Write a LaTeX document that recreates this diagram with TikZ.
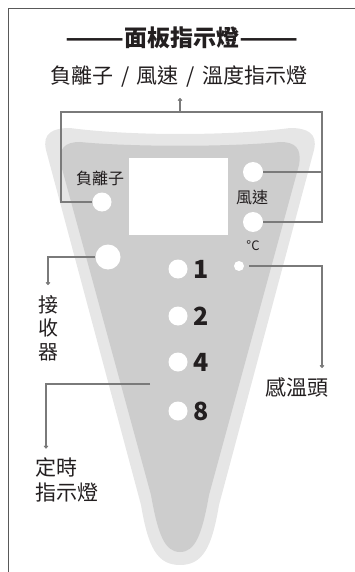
\documentclass[tikz,border=0pt]{standalone}
\usepackage{fontspec}
\setmainfont{Noto Sans CJK TC}
\usetikzlibrary{arrows.meta}

\definecolor{panelouter}{HTML}{E6E6E6}
\definecolor{panelinner}{HTML}{CDCDCD}
\definecolor{wiregray}{HTML}{7A7A7A}
\definecolor{inkgray}{HTML}{231F20}

\begin{document}
\begin{tikzpicture}[x=1pt, y=-1pt,
  wire/.style={draw=wiregray, line width=1.1pt},
  arrowend/.style={-{To[length=3pt,width=4.5pt]}},
  lamp/.style={circle, fill=white, inner sep=0pt},
  callout/.style={inner sep=0pt, text=inkgray, font=\fontsize{21}{24}\selectfont},
  paneltext/.style={inner sep=0pt, text=inkgray, font=\fontsize{16}{18}\selectfont},
  digit/.style={inner sep=0pt, text=inkgray, font=\bfseries\fontsize{25}{27}\selectfont}]

  \useasboundingbox (0,0) rectangle (355,572);

  % 枠線
  \draw[draw=black!65, line width=1pt] (8,572) -- (8,9) -- (355,9);

  % タイトル
  \node[inner sep=0pt, text=inkgray, font=\bfseries\fontsize{23}{26}\selectfont] (title) at (182,38)
    {\scalebox{1.5}[1]{——}面板指示燈\scalebox{1.5}[1]{——}};
  \node[callout] (sub) at (179,77) {負離子\hspace{3pt} / \hspace{3pt}風速\hspace{3pt} / \hspace{3pt}溫度指示燈};

  % パネルの外形と内側
  \fill[panelouter] (46,150) .. controls (42,133) and (53,128) .. (70,128)
    .. controls (130,136) and (230,136) .. (290,128)
    .. controls (307,128) and (318,133) .. (314,150)
    -- (219,505) .. controls (212,547) and (203,565) .. (180,565)
    .. controls (157,565) and (148,547) .. (141,505) -- cycle;
  \fill[panelinner] (61,165) .. controls (58,148) and (65,142) .. (80,142)
    .. controls (130,147) and (230,147) .. (280,142)
    .. controls (295,142) and (302,148) .. (299,165)
    -- (209,495) .. controls (202,535) and (195,552) .. (180,552)
    .. controls (165,552) and (158,535) .. (151,495) -- cycle;

  % 表示窓
  \fill[white] (129,158) rectangle (228,235);

  % ランプ
  \node[lamp, minimum size=19pt] (ion) at (102,202) {};
  \node[lamp, minimum size=25pt] (rx) at (108,257) {};
  \node[lamp, minimum size=20pt] (fan1) at (253,172) {};
  \node[lamp, minimum size=20pt] (fan2) at (253,222) {};
  \node[lamp, minimum size=10pt] (sensor) at (239,266) {};
  \foreach \n/\y in {1/269, 2/316, 4/362, 8/411} {
    \node[lamp, minimum size=19pt] (t\n) at (178,\y) {};
    \node[digit] (d\n) at (201,\y) {\n};
  }

  % パネル上の文字
  \node[paneltext] (ionlabel) at (100,178) {負離子};
  \node[paneltext] (fanlabel) at (252,197) {風速};
  \node[inner sep=0pt, text=inkgray, font=\fontsize{13}{15}\selectfont] (degc) at (253,246) {°C};

  % 外側のラベル
  \node[callout, align=center, font=\fontsize{20}{23.5}\selectfont] (rxlabel) at (48,328) {接\\收\\器};
  \node[callout] (tlabel) at (297,387) {感溫頭};
  \node[callout, align=left, anchor=west, font=\fontsize{21}{25}\selectfont] (timerlabel) at (35,480) {定時\\指示燈};

  % 引き出し線
  \coordinate (brL) at (61,112);
  \coordinate (brR) at (322,112);
  \coordinate (up) at (180,112);
  \coordinate (sensorbend) at (322,266);
  \coordinate (timerpt) at (150,384);
  \coordinate (timerbend) at (46,384);

  \draw[wire] (ion.west) -| (brL) -- (brR) |- (fan2.east);
  \draw[wire] (fan1.east) -- (fan1.east -| brR);
  \draw[wire, arrowend, shorten >=10pt] (up) -- (up |- sub.south);
  \draw[wire, arrowend, shorten >=10pt] (rx.west) -| (rxlabel.north);
  \draw[wire, arrowend, shorten <=5pt, shorten >=9pt] (sensor.east) -- (sensorbend) -- (sensorbend |- tlabel.north);
  \draw[wire, arrowend, shorten >=9pt] (timerpt) -- (timerbend) -- (timerbend |- timerlabel.north);
\end{tikzpicture}
\end{document}
